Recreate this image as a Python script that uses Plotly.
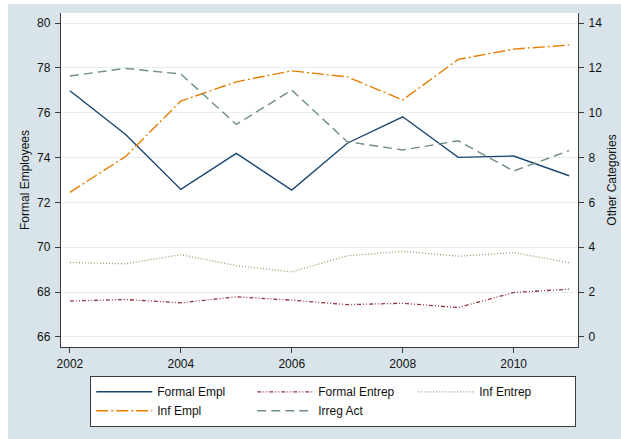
import plotly.graph_objects as go

years = [2002, 2003, 2004, 2005, 2006, 2007, 2008, 2009, 2010, 2011]
formal_empl = [76.98, 75.04, 72.58, 74.19, 72.55, 74.64, 75.82, 74.01, 74.07, 73.19]
formal_entrep = [1.60, 1.67, 1.52, 1.79, 1.64, 1.44, 1.50, 1.31, 1.98, 2.13]
inf_entrep = [3.32, 3.26, 3.67, 3.18, 2.90, 3.62, 3.82, 3.60, 3.76, 3.31]
inf_empl = [6.45, 8.04, 10.52, 11.38, 11.87, 11.60, 10.57, 12.38, 12.84, 13.02]
irreg_act = [11.64, 11.98, 11.73, 9.48, 11.01, 8.71, 8.34, 8.75, 7.40, 8.31]

left_ticks = [66, 68, 70, 72, 74, 76, 78, 80]
right_ticks = [0, 2, 4, 6, 8, 10, 12, 14]
x_ticks = [2002, 2004, 2006, 2008, 2010]

FONT = "Liberation Sans, Arial, sans-serif"
AX = "#3c3c3c"
BG = "#d9e4ea"
GRID = "#e6eef1"

fig = go.Figure()
fig.add_trace(go.Scatter(x=years, y=formal_empl, name="Formal Empl", mode="lines",
                         line=dict(color="#1a476f", width=1.4), yaxis="y"))
fig.add_trace(go.Scatter(x=years, y=formal_entrep, name="Formal Entrep", mode="lines",
                         line=dict(color="#90353b", width=1.3, dash="4px,2px,1px,2px,1px,2px"), yaxis="y2"))
fig.add_trace(go.Scatter(x=years, y=inf_entrep, name="Inf Entrep", mode="lines",
                         line=dict(color="#8aa26a", width=1.3, dash="1px,2px"), yaxis="y2"))
fig.add_trace(go.Scatter(x=years, y=inf_empl, name="Inf Empl", mode="lines",
                         line=dict(color="#e37e00", width=1.4, dash="12px,3px,2px,3px"), yaxis="y2"))
fig.add_trace(go.Scatter(x=years, y=irreg_act, name="Irreg Act", mode="lines",
                         line=dict(color="#6e8e84", width=1.4, dash="9px,5px"), yaxis="y2"))

axis_common = dict(zeroline=False, showline=True, linecolor=AX, linewidth=1.3,
                   ticks="outside", ticklen=5, tickcolor=AX, tickwidth=1.3,
                   automargin=False, tickfont=dict(size=12, color="#111"))

fig.update_layout(
    width=613, height=435,
    margin=dict(l=53, r=43, t=9, b=92),
    paper_bgcolor=BG, plot_bgcolor="white",
    font=dict(family=FONT, size=12, color="#111"),
    xaxis=dict(range=[2001.84, 2011.16], tickvals=x_ticks, showgrid=False, **axis_common),
    yaxis=dict(range=[65.55, 80.45], tickvals=left_ticks, showgrid=True, gridcolor=GRID,
               gridwidth=1.3, ticklabelstandoff=2,
               title=dict(text="Formal Employees", font=dict(size=12), standoff=4), **axis_common),
    yaxis2=dict(range=[-0.45, 14.45], tickvals=right_ticks, overlaying="y", side="right",
                showgrid=False, ticklabelstandoff=2,
                title=dict(text="Other Categories", font=dict(size=12), standoff=6), **axis_common),
    legend=dict(orientation="h", x=0.056, y=-0.0868, xanchor="left", yanchor="top",
                bgcolor="white", bordercolor=AX, borderwidth=1.3,
                entrywidth=90, itemwidth=56, font=dict(size=12), traceorder="normal"),
    showlegend=True,
)

fig.write_html("out.html", post_script="document.body.style.margin='4px 0 0 8px';")
